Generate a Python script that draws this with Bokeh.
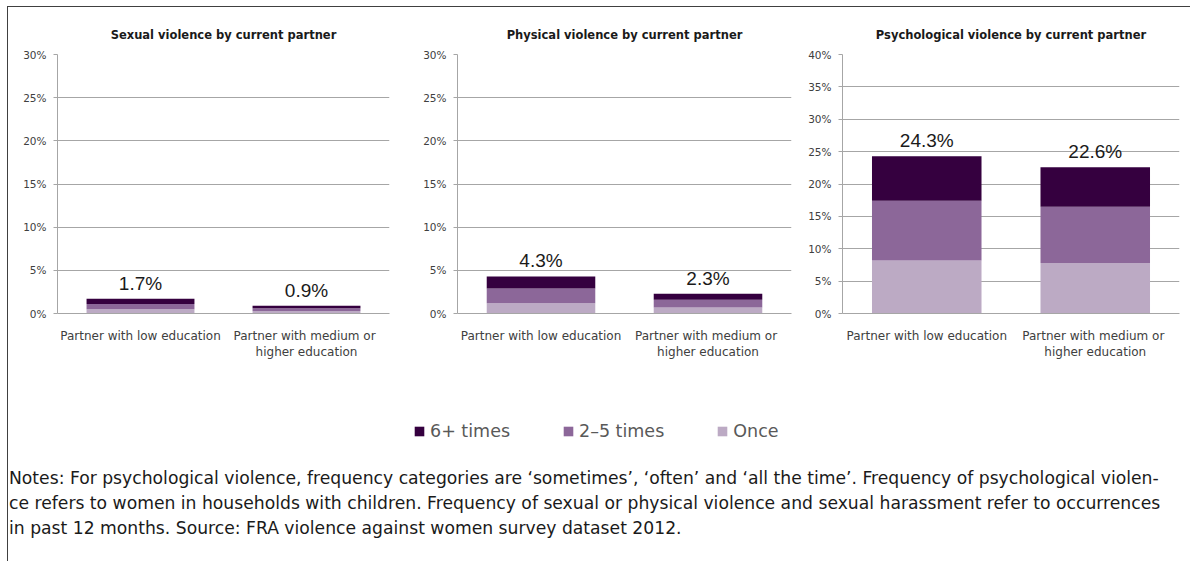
from bokeh.plotting import figure
from bokeh.models import ColumnDataSource, FactorRange, Range1d, PrintfTickFormatter, Legend, LegendItem, Div
from bokeh.layouts import row, column
from bokeh.core.properties import value
from bokeh.embed import file_html
from bokeh.resources import INLINE

# ---------------- data ----------------
categories = ["Partner with low education", "Partner with  medium or\nhigher education"]
frequency_labels = ["6+ times", "2\u20135 times", "Once"]

sexual_once = [0.5, 0.3]
sexual_two_five = [0.6, 0.3]
sexual_six_plus = [0.6, 0.3]
sexual_total = [1.7, 0.9]

physical_once = [1.2, 0.7]
physical_two_five = [1.7, 0.9]
physical_six_plus = [1.4, 0.7]
physical_total = [4.3, 2.3]

psych_once = [8.2, 7.8]
psych_two_five = [9.2, 8.7]
psych_six_plus = [6.9, 6.1]
psych_total = [24.3, 22.6]

panel_titles = ["Sexual violence by current partner",
                "Physical violence by current partner",
                "Psychological violence by current partner"]
y_max = [30, 30, 40]
y_ticks_30 = [0, 5, 10, 15, 20, 25, 30]
y_ticks_40 = [0, 5, 10, 15, 20, 25, 30, 35, 40]

notes_lines = [
    "Notes: For psychological violence, frequency categories are \u2018sometimes\u2019, \u2018often\u2019 and \u2018all the time\u2019. Frequency of psychological violen-",
    "ce refers to women in households with children. Frequency of sexual or physical violence and sexual harassment refer to occurrences",
    "in past 12 months. Source: FRA violence against women survey dataset 2012.",
]

# ---------------- style ----------------
COL_ONCE = "#bcaac4"
COL_TWO = "#8c6799"
COL_SIX = "#35003f"
SERIES_COLORS = [COL_SIX, COL_TWO, COL_ONCE]
GRID = "#a6a6a6"
FONT = "DejaVu Sans"
FIG_H = 375
TOP = 47
BOTTOM = 69


def make_panel(title, once, two, six, total, ymax, ticks, width, left, right):
    src = ColumnDataSource(dict(
        cat=categories, once=once, two=two, six=six, total=total,
        label=["%.1f%%" % t for t in total],
    ))
    p = figure(x_range=FactorRange(*categories, range_padding=0), y_range=Range1d(0, ymax),
               width=width, height=FIG_H, min_border_left=left, min_border_right=right,
               min_border_top=TOP, min_border_bottom=BOTTOM,
               toolbar_location=None, output_backend="svg", title=title)
    rs = p.vbar_stack(["once", "two", "six"], x="cat", width=0.65, source=src,
                      color=[COL_ONCE, COL_TWO, COL_SIX], line_color=None)
    p.text(x="cat", y="total", text="label", source=src, text_align="center",
           text_baseline="bottom", y_offset=-5, text_font=value("Liberation Sans"),
           text_font_size="19px", text_color="#1a1a1a")
    p.title.align = "center"
    p.title.text_font = FONT
    p.title.text_font_style = "bold"
    p.title.text_font_size = "11.5px"
    p.title.text_color = "#1a1a1a"
    p.title.standoff = 26
    p.outline_line_color = None
    p.xgrid.grid_line_color = None
    p.ygrid.grid_line_color = GRID
    p.yaxis.ticker = ticks
    p.yaxis.formatter = PrintfTickFormatter(format="%d%%")
    p.yaxis.major_tick_in = 0
    p.yaxis.major_tick_out = 4
    p.yaxis.minor_tick_line_color = None
    p.yaxis.major_label_standoff = 7
    p.yaxis.major_tick_line_color = GRID
    p.xaxis.major_tick_line_color = None
    p.xaxis.major_label_standoff = 9
    for ax in (p.xaxis, p.yaxis):
        ax.axis_line_color = GRID
        ax.major_label_text_font = FONT
        ax.major_label_text_color = "#404040"
    p.yaxis.major_label_text_font_size = "10.5px"
    p.xaxis.major_label_text_font_size = "12px"
    return p, rs


p1, _ = make_panel(panel_titles[0], sexual_once, sexual_two_five, sexual_six_plus, sexual_total,
                   y_max[0], y_ticks_30, 393, 49, 12)
p2, _ = make_panel(panel_titles[1], physical_once, physical_two_five, physical_six_plus, physical_total,
                   y_max[1], y_ticks_30, 395, 56, 5)
p3, _ = make_panel(panel_titles[2], psych_once, psych_two_five, psych_six_plus, psych_total,
                   y_max[2], y_ticks_40, 386, 46, 3)

# legend strip: a plot whose frame is the whole strip; the swatch carriers have zero size
pl = figure(width=1173, height=65, x_range=Range1d(0, 1), y_range=Range1d(0, 1),
            x_axis_location=None, y_axis_location=None, min_border=0,
            toolbar_location=None, output_backend="svg")
pl.outline_line_color = None
pl.grid.grid_line_color = None
swatches = [pl.vbar(x=[0], top=[0], bottom=[0], width=0, fill_color=c, line_color=None)
            for c in SERIES_COLORS]
legend = Legend(items=[LegendItem(label=lab, renderers=[r]) for lab, r in zip(frequency_labels, swatches)],
                orientation="horizontal", location=(405, 6),
                glyph_width=12, glyph_height=12, label_standoff=5, spacing=52,
                padding=0, margin=0, border_line_color=None, background_fill_alpha=0,
                label_text_font=FONT, label_text_font_size="17.5px", label_text_color="#595959")
pl.add_layout(legend)

notes_html = '<div style="position:relative; left:-4px;">' + "<br>".join(notes_lines) + "</div>"
notes = Div(text=notes_html, width=1173, height=104,
            styles={"font-family": "DejaVu Sans", "font-size": "17.2px", "line-height": "25px",
                    "color": "#1a1a1a", "padding-top": "14px", "padding-left": "0px",
                    "white-space": "nowrap"})

layout = column(row(p1, p2, p3), pl, notes,
                styles={"border-left": "1px solid #404040", "border-top": "1px solid #404040",
                        "margin-left": "7px", "margin-top": "6px"})

open("out.html", "w").write(file_html(layout, INLINE))
